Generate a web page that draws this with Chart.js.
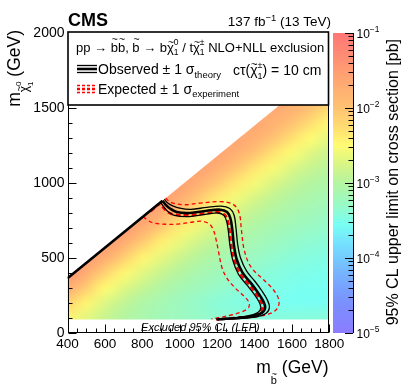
<!DOCTYPE html>
<html>
<head>
<meta charset="utf-8">
<script src="https://cdn.jsdelivr.net/npm/chart.js@4.4.1/dist/chart.umd.min.js"></script>
<style>
html, body { margin: 0; padding: 0; background: #fff; }
canvas { display: block; }
</style>
</head>
<body>
<canvas id="c" width="407" height="391"></canvas>
<script>
// axis ticks
const xTicks = [400, 600, 800, 1000, 1200, 1400, 1600, 1800];
const yTicks = [0, 500, 1000, 1500, 2000];
const zDecades = [-5, -4, -3, -2, -1];

// heat map grid: sbottom mass columns, neutralino mass rows, log10(limit in pb)
const mbCols = [400, 500, 600, 700, 800, 900, 1000, 1100, 1200, 1300, 1400, 1500, 1600, 1700, 1800];
const mchiRows = [100, 200, 300, 400, 500, 600, 700, 800, 900, 1000, 1100, 1200, 1300, 1400, 1500, 1600, 1700, 1800];
const n = null;
const logLimit = [
  [-2.45, -2.68, -2.86, -3.0, -3.1, -3.18, -3.24, -3.3, -3.35, -3.38, -3.4, -3.42, -3.42, -3.42, -3.4],
  [-2.15, -2.45, -2.72, -2.9, -3.05, -3.15, -3.24, -3.32, -3.4, -3.45, -3.5, -3.52, -3.55, -3.56, -3.56],
  [-1.7, -2.1, -2.5, -2.7, -2.88, -3.02, -3.14, -3.22, -3.3, -3.38, -3.44, -3.48, -3.52, -3.54, -3.55],
  [-1.45, -1.7, -2.15, -2.47, -2.68, -2.86, -3.0, -3.12, -3.2, -3.28, -3.36, -3.42, -3.47, -3.5, -3.52],
  [-1.45, -1.5, -1.72, -2.12, -2.45, -2.66, -2.84, -2.98, -3.1, -3.18, -3.26, -3.34, -3.4, -3.44, -3.47],
  [n, -1.5, -1.5, -1.72, -2.1, -2.42, -2.64, -2.82, -2.96, -3.08, -3.16, -3.24, -3.32, -3.37, -3.41],
  [n, n, -1.5, -1.5, -1.72, -2.08, -2.4, -2.62, -2.8, -2.94, -3.06, -3.14, -3.22, -3.28, -3.33],
  [n, n, n, -1.5, -1.52, -1.72, -2.06, -2.38, -2.6, -2.78, -2.92, -3.04, -3.12, -3.19, -3.24],
  [n, n, n, n, -1.52, -1.55, -1.72, -2.05, -2.36, -2.58, -2.76, -2.9, -3.02, -3.1, -3.15],
  [n, n, n, n, n, -1.55, -1.55, -1.74, -2.04, -2.34, -2.56, -2.74, -2.88, -3.0, -3.06],
  [n, n, n, n, n, n, -1.55, -1.58, -1.74, -2.02, -2.32, -2.54, -2.72, -2.86, -2.96],
  [n, n, n, n, n, n, n, -1.58, -1.6, -1.75, -2.0, -2.3, -2.52, -2.7, -2.84],
  [n, n, n, n, n, n, n, n, -1.6, -1.62, -1.76, -1.99, -2.28, -2.5, -2.68],
  [n, n, n, n, n, n, n, n, n, -1.62, -1.64, -1.77, -1.98, -2.26, -2.48],
  [n, n, n, n, n, n, n, n, n, n, -1.64, -1.66, -1.78, -1.97, -2.24],
  [n, n, n, n, n, n, n, n, n, n, n, -1.66, -1.68, -1.79, -1.96],
  [n, n, n, n, n, n, n, n, n, n, n, n, -1.68, -1.7, -1.8],
  [n, n, n, n, n, n, n, n, n, n, n, n, n, -1.7, -1.72]
];

// kinematic edge of the scanned region and the LEP chargino limit
const diagMb = [400, 1800];
const diagMchi = [365, 1790];
const lepLimit = 90;

// palette of the colour bar (log10 value -> colour)
const paletteLog = [-5.0, -4.6, -4.2, -3.85, -3.55, -3.3, -3.0, -2.75, -2.5, -2.25, -2.0, -1.6, -1.3, -1.0];
const paletteHex = ['#8c7cff', '#7a90ff', '#76b4ff', '#74dcff', '#78fff2', '#98fac8', '#b4f5a0', '#d8f585',
                    '#fffb72', '#ffdc72', '#ffc272', '#ffa472', '#ff8c74', '#ff7777'];

// exclusion contours [m_sbottom, m_neutralino]
const obsDiagonal = [[400, 365], [908, 882]];
const obsCentral = [[908, 882], [924, 856], [948, 830], [984, 806], [1055, 800], [1145, 815], [1217, 822], [1253, 806],
  [1271, 765], [1281, 690], [1290, 585], [1305, 490], [1336, 402], [1380, 334], [1418, 270], [1446, 214], [1457, 170],
  [1440, 134], [1390, 111], [1295, 98], [1200, 91]];
const obsPlus = [[918, 892], [936, 866], [962, 848], [1000, 832], [1060, 824], [1145, 838], [1222, 846], [1268, 830],
  [1291, 785], [1301, 700], [1310, 590], [1326, 498], [1358, 412], [1402, 345], [1440, 280], [1468, 222], [1480, 172],
  [1462, 132], [1410, 108], [1310, 96], [1210, 90]];
const obsMinus = [[898, 872], [912, 845], [935, 812], [972, 784], [1050, 776], [1145, 792], [1205, 800], [1236, 784],
  [1251, 745], [1260, 680], [1269, 580], [1284, 485], [1314, 392], [1358, 322], [1396, 262], [1424, 208], [1434, 168],
  [1418, 137], [1370, 115], [1285, 101], [1195, 92]];
const expCentral = [[845, 812], [895, 862], [912, 836], [938, 804], [980, 788], [1050, 785], [1145, 798], [1207, 805],
  [1240, 788], [1257, 748], [1267, 680], [1276, 580], [1292, 488], [1322, 398], [1368, 328], [1406, 266], [1434, 212],
  [1444, 170], [1428, 136], [1380, 112], [1290, 99], [1195, 91]];
const expPlus = [[925, 900], [950, 872], [1019, 855], [1109, 866], [1217, 876], [1275, 864], [1305, 835], [1322, 780],
  [1330, 687], [1345, 553], [1380, 442], [1450, 353], [1500, 290], [1530, 222], [1524, 168], [1488, 132], [1418, 110],
  [1310, 98], [1200, 91]];
const expMinus = [[805, 775], [828, 752], [860, 733], [930, 725], [1000, 727], [1070, 740], [1120, 745], [1160, 725],
  [1182, 680], [1195, 620], [1208, 540], [1225, 440], [1250, 370], [1290, 308], [1340, 250], [1370, 205], [1368, 168],
  [1330, 140], [1275, 120], [1210, 102], [1170, 94]];

const FONT = '"Liberation Sans", Arial, sans-serif';
Chart.defaults.font.family = FONT;
Chart.defaults.color = '#000';

function hexRgb(h) {
  return [parseInt(h.slice(1, 3), 16), parseInt(h.slice(3, 5), 16), parseInt(h.slice(5, 7), 16)];
}

function paletteColor(v) {
  if (v <= paletteLog[0]) return hexRgb(paletteHex[0]);
  for (let i = 1; i < paletteLog.length; i++) {
    if (v <= paletteLog[i]) {
      const t = (v - paletteLog[i - 1]) / (paletteLog[i] - paletteLog[i - 1]);
      const a = hexRgb(paletteHex[i - 1]), b = hexRgb(paletteHex[i]);
      return a.map((c, k) => Math.round(c + (b[k] - c) * t));
    }
  }
  return hexRgb(paletteHex[paletteHex.length - 1]);
}

// one pixel per grid point, smoothed when stretched onto the plot
const heatImage = document.createElement('canvas');
heatImage.width = mbCols.length;
heatImage.height = mchiRows.length;
(function(){
  const g = heatImage.getContext('2d');
  const img = g.createImageData(mbCols.length, mchiRows.length);
  for (let r = 0; r < mchiRows.length; r++) {
    for (let c = 0; c < mbCols.length; c++) {
      const v = logLimit[r][c];
      const idx = ((mchiRows.length - 1 - r) * mbCols.length + c) * 4;
      if (v === null) continue;
      const col = paletteColor(v);
      img.data[idx] = col[0];
      img.data[idx + 1] = col[1];
      img.data[idx + 2] = col[2];
      img.data[idx + 3] = 255;
    }
  }
  g.putImageData(img, 0, 0);
})();

function face(p){
  return (p.it ? 'italic ' : '') + (p.b ? 'bold ' : '') + p.s + 'px ' + FONT;
}

// text with sub/superscripts and tilde accents
function rich(ctx, x, y, parts, align){
  let w = 0;
  for (const p of parts) {
    ctx.font = face(p);
    p.w = ctx.measureText(p.t).width;
    if (!p.stack) w += p.w;
  }
  let cx = align === 'right' ? x - w : (align === 'center' ? x - w / 2 : x);
  ctx.textAlign = 'left';
  ctx.textBaseline = 'alphabetic';
  for (const p of parts) {
    const dy = p.dy || 0;
    ctx.font = face(p);
    ctx.fillText(p.t, cx, y + dy);
    if (p.tilde) {
      const ts = p.s * 0.8;
      ctx.font = ts + 'px ' + FONT;
      const tw = ctx.measureText('~').width;
      ctx.fillText('~', cx + p.w / 2 - tw / 2 + 0.5, y + dy - p.s * p.tilde);
    }
    if (!p.stack) cx += p.w;
  }
}

function line(data, color, width, dash){
  return {
    data: data,
    showLine: true,
    borderColor: color,
    backgroundColor: color,
    borderWidth: width,
    borderDash: dash,
    pointRadius: 0,
    tension: 0.35,
    fill: false
  };
}

const cmsPlot = {
  id: 'cmsPlot',
  beforeDatasetsDraw(chart){
    const {ctx, chartArea: a, scales: {x, y}} = chart;
    ctx.save();
    ctx.beginPath();
    ctx.rect(a.left, a.top, a.right - a.left, a.bottom - a.top);
    ctx.clip();
    ctx.beginPath();
    ctx.moveTo(x.getPixelForValue(diagMb[0]), y.getPixelForValue(lepLimit));
    for (let i = 0; i < diagMb.length; i++) {
      ctx.lineTo(x.getPixelForValue(diagMb[i]), y.getPixelForValue(diagMchi[i]));
    }
    ctx.lineTo(x.getPixelForValue(diagMb[diagMb.length - 1]), y.getPixelForValue(lepLimit));
    ctx.closePath();
    ctx.clip();
    const hx = (mbCols[1] - mbCols[0]) / 2, hy = (mchiRows[1] - mchiRows[0]) / 2;
    const x0 = x.getPixelForValue(mbCols[0] - hx), x1 = x.getPixelForValue(mbCols[mbCols.length - 1] + hx);
    const y0 = y.getPixelForValue(mchiRows[mchiRows.length - 1] + hy), y1 = y.getPixelForValue(mchiRows[0] - hy);
    ctx.imageSmoothingEnabled = true;
    ctx.imageSmoothingQuality = 'high';
    ctx.drawImage(heatImage, x0, y0, x1 - x0, y1 - y0);
    ctx.restore();
  },
  afterDraw(chart){
    const {ctx, chartArea: a, scales: {x, y, z}} = chart;
    ctx.save();
    ctx.fillStyle = '#000';

    // LEP label
    rich(ctx, (a.left + a.right) / 2 + 2, a.bottom - 2.5, [{t: 'Excluded 95% CL (LEP)', s: 11, it: true}], 'center');

    // frame and inward ticks
    ctx.strokeStyle = '#000';
    ctx.lineWidth = 1;
    const L = Math.round(a.left) + 0.5, R = Math.round(a.right) - 0.5;
    const T = Math.round(a.top) + 0.5, B = Math.round(a.bottom) - 0.5;
    ctx.strokeRect(L, T, R - L, B - T);
    ctx.beginPath();
    for (let v = xTicks[0]; v <= xTicks[xTicks.length - 1]; v += 50) {
      const px = Math.round(x.getPixelForValue(v)) + 0.5;
      const len = xTicks.includes(v) ? 8 : 4;
      ctx.moveTo(px, B); ctx.lineTo(px, B - len);
    }
    for (let v = yTicks[0]; v <= yTicks[yTicks.length - 1]; v += 100) {
      const py = Math.round(y.getPixelForValue(v)) + 0.5;
      const len = yTicks.includes(v) ? 8 : 4;
      ctx.moveTo(L, py); ctx.lineTo(L + len, py);
    }
    ctx.stroke();

    // legend box
    const lx = 68, ly = 32, lw = 260.5, lh = 73;
    ctx.fillStyle = '#fff';
    ctx.fillRect(lx, ly, lw, lh);
    ctx.lineWidth = 1.6;
    ctx.strokeRect(lx, ly, lw, lh);
    ctx.fillStyle = '#000';
    rich(ctx, 76, 51.5, [
      {t: 'pp \u2192 ', s: 13}, {t: 'b', s: 13, tilde: 0.62}, {t: 'b', s: 13, tilde: 0.62}, {t: ', ', s: 13},
      {t: 'b', s: 13, tilde: 0.62}, {t: ' \u2192 b', s: 13}, {t: '\u03c7', s: 13, tilde: 0.45},
      {t: '0', s: 8.5, dy: -6.5, stack: true}, {t: '1', s: 8.5, dy: 3.5}, {t: ' / t', s: 13},
      {t: '\u03c7', s: 13, tilde: 0.45}, {t: '\u00b1', s: 8.5, dy: -6.5, stack: true}, {t: '1', s: 8.5, dy: 3.5},
      {t: ' NLO+NLL exclusion', s: 13}
    ], 'left');
    // observed symbol
    ctx.setLineDash([]);
    ctx.strokeStyle = '#000';
    [[65.5, 1.3], [69, 2.6], [72.5, 1.3]].forEach(([yy, w]) => {
      ctx.lineWidth = w; ctx.beginPath(); ctx.moveTo(77, yy); ctx.lineTo(97, yy); ctx.stroke();
    });
    // expected symbol
    ctx.strokeStyle = '#ff0000';
    ctx.setLineDash([3, 2]);
    [[85.5, 1.3], [89, 2.6], [92.5, 1.3]].forEach(([yy, w]) => {
      ctx.lineWidth = w; ctx.beginPath(); ctx.moveTo(77, yy); ctx.lineTo(97, yy); ctx.stroke();
    });
    ctx.setLineDash([]);
    rich(ctx, 98, 74, [{t: 'Observed \u00b1 1 \u03c3', s: 14}, {t: 'theory', s: 9.5, dy: 3.5}], 'left');
    rich(ctx, 98, 93.5, [{t: 'Expected \u00b1 1 \u03c3', s: 14}, {t: 'experiment', s: 9.5, dy: 3.5}], 'left');
    rich(ctx, 233, 74.5, [
      {t: 'c\u03c4(', s: 14}, {t: '\u03c7', s: 14, tilde: 0.45}, {t: '\u00b1', s: 9, dy: -7, stack: true},
      {t: '1', s: 9, dy: 4}, {t: ') = 10 cm', s: 14}
    ], 'left');

    // CMS and luminosity
    rich(ctx, 68, 26, [{t: 'CMS', s: 18, b: true}], 'left');
    rich(ctx, 331, 26, [{t: '137 fb', s: 13.5}, {t: '\u22121', s: 9.5, dy: -5.5}, {t: ' (13 TeV)', s: 13.5}], 'right');

    // axis titles
    rich(ctx, 328.5, 373, [{t: 'm', s: 17.5}, {t: 'b', s: 11, dy: 11, tilde: 0.62}, {t: ' (GeV)', s: 17.5}], 'right');
    ctx.save();
    ctx.translate(19.5, 30);
    ctx.rotate(-Math.PI / 2);
    rich(ctx, 0, 0, [{t: 'm', s: 17.5}, {t: '\u03c7', s: 12, dy: 8, tilde: 0.45},
      {t: '0', s: 8, dy: 1, stack: true}, {t: '1', s: 8, dy: 13}, {t: ' (GeV)', s: 17.5}], 'right');
    ctx.restore();

    // colour bar
    const bx0 = Math.round(a.right) + 4, bx1 = bx0 + 20;
    const top = z.getPixelForValue(Math.pow(10, zDecades[zDecades.length - 1]));
    const bot = z.getPixelForValue(Math.pow(10, zDecades[0]));
    for (let py = Math.floor(top); py < bot; py++) {
      const c = paletteColor(Math.log10(z.getValueForPixel(py + 0.5)));
      ctx.fillStyle = 'rgb(' + c[0] + ',' + c[1] + ',' + c[2] + ')';
      ctx.fillRect(bx0, py, bx1 - bx0, 1);
    }
    ctx.strokeStyle = '#000';
    ctx.lineWidth = 1;
    ctx.beginPath();
    ctx.moveTo(bx1 + 0.5, top); ctx.lineTo(bx1 + 0.5, bot);
    zDecades.forEach((d, i) => {
      const py = Math.round(z.getPixelForValue(Math.pow(10, d))) + 0.5;
      ctx.moveTo(bx1, py); ctx.lineTo(bx1 - 8, py);
      if (i < zDecades.length - 1) {
        for (let m = 2; m <= 9; m++) {
          const pm = Math.round(z.getPixelForValue(m * Math.pow(10, d))) + 0.5;
          ctx.moveTo(bx1, pm); ctx.lineTo(bx1 - 4.5, pm);
        }
      }
    });
    ctx.stroke();
    ctx.fillStyle = '#000';
    zDecades.forEach(d => {
      const py = z.getPixelForValue(Math.pow(10, d));
      rich(ctx, bx1 + 3.5, py + 4.5, [{t: '10', s: 12}, {t: '\u2212' + Math.abs(d), s: 8.5, dy: -6}], 'left');
    });
    ctx.save();
    ctx.translate(398, 39);
    ctx.rotate(-Math.PI / 2);
    rich(ctx, 0, 0, [{t: '95% CL upper limit on cross section [pb]', s: 16}], 'right');
    ctx.restore();

    ctx.restore();
  }
};

new Chart(document.getElementById('c'), {
  type: 'scatter',
  data: {
    datasets: [
      line(obsDiagonal, '#000', 2.6, []),
      line(obsCentral, '#000', 2.6, []),
      line(obsPlus, '#000', 1.3, []),
      line(obsMinus, '#000', 1.3, []),
      line(expCentral, '#ff0000', 2.6, [5, 3]),
      line(expPlus, '#ff0000', 1.3, [4, 3]),
      line(expMinus, '#ff0000', 1.3, [4, 3])
    ]
  },
  options: {
    responsive: false,
    animation: false,
    devicePixelRatio: 1,
    layout: { padding: { top: 33, left: 0, right: 0, bottom: 0 } },
    plugins: { legend: { display: false }, tooltip: { enabled: false } },
    scales: {
      x: {
        type: 'linear', min: 400, max: 1800,
        afterBuildTicks: s => { s.ticks = xTicks.map(v => ({value: v})); },
        grid: { display: false, drawTicks: false },
        border: { display: false },
        ticks: { font: { size: 13.5 }, padding: 3, maxRotation: 0, autoSkip: false, color: '#000',
                 callback: v => String(v) },
        afterFit: s => { s.height = 58; }
      },
      y: {
        type: 'linear', min: 0, max: 2000,
        afterBuildTicks: s => { s.ticks = yTicks.map(v => ({value: v})); },
        grid: { display: false, drawTicks: false },
        border: { display: false },
        ticks: { font: { size: 14 }, padding: 3, autoSkip: false, color: '#000', callback: v => String(v) },
        afterFit: s => { s.width = 67.5; }
      },
      z: {
        type: 'logarithmic', position: 'right', min: 1e-5, max: 1e-1,
        grid: { display: false, drawTicks: false },
        border: { display: false },
        ticks: { display: false },
        afterFit: s => { s.width = 77.7; }
      }
    }
  },
  plugins: [cmsPlot]
});
</script>
</body>
</html>
